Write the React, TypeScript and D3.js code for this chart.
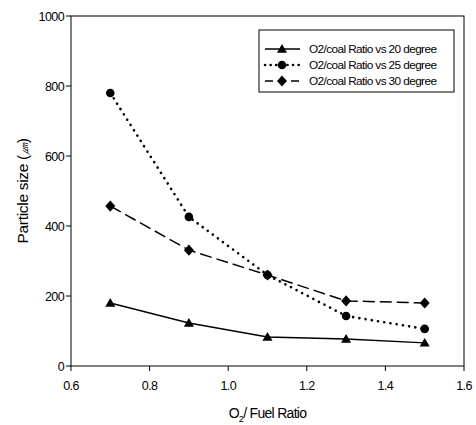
import React from 'react';
import { scaleLinear, line, symbol, symbolTriangle } from 'd3';

// data
const ratios = [0.7, 0.9, 1.1, 1.3, 1.5];
const deg20 = [180, 123, 83, 77, 66];
const deg25 = [780, 426, 260, 143, 106];
const deg30 = [457, 331, 260, 186, 180];
const xTicks = [0.6, 0.8, 1.0, 1.2, 1.4, 1.6];
const yTicks = [0, 200, 400, 600, 800, 1000];
const legendLabels = [
  'O2/coal Ratio vs 20 degree',
  'O2/coal Ratio vs 25 degree',
  'O2/coal Ratio vs 30 degree',
];

const W = 476;
const H = 425;
const margin = { left: 71, right: 12, top: 16, bottom: 59 };

export default function App() {
  const xScale = scaleLinear().domain([0.6, 1.6]).range([margin.left, W - margin.right]);
  const yScale = scaleLinear().domain([0, 1000]).range([H - margin.bottom, margin.top]);

  const series = [
    { values: deg20, dash: 'none', width: 1.4, cap: 'butt', marker: 'triangle' },
    { values: deg25, dash: '0.1,6.2', width: 2.6, cap: 'round', marker: 'circle' },
    { values: deg30, dash: '12,5', width: 1.5, cap: 'butt', marker: 'diamond' },
  ];

  const pathGen = line<number>()
    .x((d, i) => xScale(ratios[i]))
    .y((d) => yScale(d));

  const drawMarker = (kind: string, x: number, y: number, key: any) => {
    if (kind === 'circle') return <circle key={key} cx={x} cy={y} r={4.3} fill="#000" />;
    if (kind === 'diamond') {
      return <path key={key} d="M0,-5.6L5,0L0,5.6L-5,0Z" transform={`translate(${x},${y})`} fill="#000" />;
    }
    const s = symbol().type(symbolTriangle).size(44)();
    return <path key={key} d={s as string} transform={`translate(${x},${y + 0.8})`} fill="#000" />;
  };

  const x0 = margin.left;
  const x1 = W - margin.right;
  const y0 = H - margin.bottom;
  const y1 = margin.top;
  const font = 'Liberation Sans, Arial, sans-serif';

  return (
    <svg width={W} height={H} style={{ position: 'absolute', left: 0, top: 0, background: '#fff' }}>
      <rect x={0} y={0} width={W} height={H} fill="#fff" />
      {/* frame */}
      <rect x={x0} y={y1} width={x1 - x0} height={y0 - y1} fill="none" stroke="#000" strokeWidth={1} />

      {/* y axis */}
      {yTicks.map((t) => (
        <g key={'y' + t}>
          <line x1={x0 - 5} x2={x0} y1={yScale(t)} y2={yScale(t)} stroke="#000" />
          <text x={x0 - 7} y={yScale(t) + 4.5} textAnchor="end" fontSize={12.5} fontFamily={font} letterSpacing={-0.6}>
            {t}
          </text>
        </g>
      ))}

      {/* x axis */}
      {xTicks.map((t) => (
        <g key={'x' + t}>
          <line x1={xScale(t)} x2={xScale(t)} y1={y0} y2={y0 + 5} stroke="#000" />
          <text x={xScale(t)} y={y0 + 24} textAnchor="middle" fontSize={12.5} fontFamily={font} letterSpacing={-0.6}>
            {t.toFixed(1)}
          </text>
        </g>
      ))}

      {/* axis titles */}
      <text x={(x0 + x1) / 2} y={H - 7} textAnchor="middle" fontSize={14} fontFamily={font} letterSpacing={-0.7}>
        O<tspan fontSize={9} dy={4}>2</tspan>
        <tspan dy={-4}>/ Fuel Ratio</tspan>
      </text>
      <text
        transform={`translate(28,${(y0 + y1) / 2}) rotate(-90)`}
        textAnchor="middle"
        fontSize={15.5}
        fontFamily={font}
        letterSpacing={-0.3}
      >
        Particle size (<tspan fontStyle="italic" fontSize={12}>㎛</tspan>)
      </text>

      {/* series */}
      {series.map((s, si) => (
        <g key={'s' + si}>
          <path
            d={pathGen(s.values) as string}
            fill="none"
            stroke="#000"
            strokeWidth={s.width}
            strokeDasharray={s.dash}
            strokeLinecap={s.cap as any}
          />
          {s.values.map((v, i) => drawMarker(s.marker, xScale(ratios[i]), yScale(v), i))}
        </g>
      ))}

      {/* legend */}
      <rect x={259} y={30} width={195} height={62} fill="#fff" stroke="#000" strokeWidth={1} />
      {series.map((s, si) => {
        const ly = 49 + si * 16;
        return (
          <g key={'l' + si}>
            <line
              x1={265}
              x2={300}
              y1={ly}
              y2={ly}
              stroke="#000"
              strokeWidth={s.width}
              strokeDasharray={s.dash === 'none' ? 'none' : s.dash === '12,5' ? '8,5' : '0.1,5.5'}
              strokeLinecap={s.cap as any}
            />
            {drawMarker(s.marker, 282, ly, 'm')}
            <text x={309} y={ly + 4} fontSize={11.8} fontFamily={font} letterSpacing={-0.6}>
              {legendLabels[si]}
            </text>
          </g>
        );
      })}
    </svg>
  );
}
